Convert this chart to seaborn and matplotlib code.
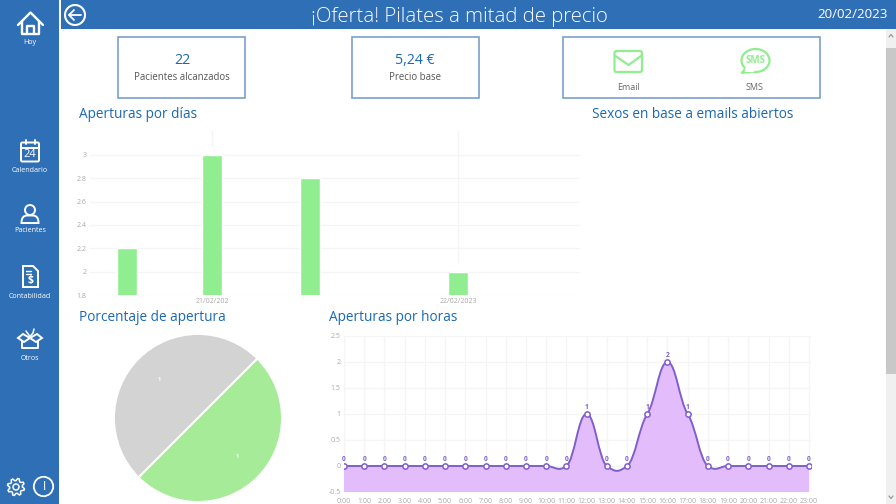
#!/usr/bin/env python3
import numpy as np
import pandas as pd
import matplotlib
matplotlib.use('Agg')
import matplotlib.pyplot as plt
from matplotlib.patches import Rectangle, Circle, FancyBboxPatch, PathPatch, Ellipse, Polygon
from matplotlib.path import Path
import seaborn as sns

# Data
day_positions = [20.655, 21.0, 21.4, 22.0]
day_values = [2.2, 3, 2.8, 2]
day_ticks = [21, 22]
day_tick_labels = ['21/02/202', '22/02/2023']
day_yticks = [1.8, 2, 2.2, 2.4, 2.6, 2.8, 3]

pie_values = [1, 1]
pie_labels = ['1', '1']

hours = list(range(24))
hour_labels = [f'{h}:00' for h in hours]
hour_values = [0, 0, 0, 0, 0, 0, 0, 0, 0, 0, 0, 0, 1, 0, 0, 1, 2, 1, 0, 0, 0, 0, 0, 0]
hour_yticks = [-0.5, 0, 0.5, 1, 1.5, 2, 2.5]

nav_items = ['Calendario', 'Pacientes', 'Contabilidad', 'Otros']

BLUE = '#2f6fb6'
TITLE_BLUE = '#1a68b4'
GREEN = '#90ee90'
PURPLE = '#7f5fcb'
GRID = '#f5f5f5'
W, H = 896, 504
FONT = 'Open Sans'

sns.set_style('white')
plt.rcParams['font.family'] = [FONT, 'DejaVu Sans']

fig = plt.figure(figsize=(W / 100, H / 100), dpi=100)


def px_axes(left, top, right, bottom):
    return fig.add_axes([left / W, 1 - bottom / H, (right - left) / W, (bottom - top) / H])


# Canvas in pixels for the app chrome
ui = fig.add_axes([0, 0, 1, 1], zorder=0)
ui.set_xlim(0, W)
ui.set_ylim(H, 0)
ui.axis('off')

ui.add_patch(Rectangle((0, 0), 59, H, color=BLUE, lw=0))
ui.add_patch(Rectangle((61, 0), W - 61, 28.5, color=BLUE, lw=0))

# Scrollbar
ui.add_patch(Rectangle((886, 29), 10, H - 29, color='#f0f0f0', lw=0))
ui.add_patch(Rectangle((886, 48), 10, 326, color='#c8c8c8', lw=0))
ui.plot([889, 891, 893], [37, 34.5, 37], color='#999999', lw=0.9)
ui.plot([889, 891, 893], [496, 498.5, 496], color='#999999', lw=0.9)

ui.text(459.5, 17, '¡Oferta! Pilates a mitad de precio', color='white', fontsize=14.7,
        fontweight='light', ha='center', va='center')
ui.text(853, 15, '20/02/2023', color='white', fontsize=9.6, ha='center', va='center')

# Back button
ui.add_patch(Circle((75, 15), 10, fill=False, ec='white', lw=1.5))
ui.plot([69, 81], [15, 15], color='white', lw=1.3)
ui.plot([74, 69, 74], [10, 15, 20], color='white', lw=1.3)

# Top cards
for left, right in [(118, 245), (352, 479), (563, 820)]:
    ui.add_patch(Rectangle((left, 37), right - left, 61, fc='white', ec='#7a9fcb', lw=1.2))

ui.text(182, 61, '22', color=TITLE_BLUE, fontsize=10.2, ha='center', va='center')
ui.text(182, 78, 'Pacientes alcanzados', color='#555555', fontsize=6.9, ha='center', va='center')
ui.text(415, 61, '5,24 €', color=TITLE_BLUE, fontsize=10.2, ha='center', va='center')
ui.text(415, 78, 'Precio base', color='#555555', fontsize=6.9, ha='center', va='center')
ui.text(628, 88, 'Email', color='#666666', fontsize=6.5, ha='center', va='center')
ui.text(755, 88, 'SMS', color='#666666', fontsize=6.5, ha='center', va='center')

# Email icon
ui.add_patch(FancyBboxPatch((614.5, 51), 27.5, 21, boxstyle='round,pad=0,rounding_size=2',
                            fc='white', ec=GREEN, lw=1.6))
ui.plot([615.5, 628.5, 641], [56, 65, 56], color=GREEN, lw=1.6)

# SMS icon
ui.add_patch(Polygon([[746, 68], [741.5, 73], [751, 72]], fc='white', ec=GREEN, lw=1.5))
ui.add_patch(Ellipse((755.5, 60.5), 28, 23, fc='white', ec=GREEN, lw=1.6))
ui.add_patch(Rectangle((745, 68), 9, 3.5, fc='white', ec='none'))
ui.text(755.5, 60.5, 'SMS', color=GREEN, fontsize=7, fontweight='bold', ha='center', va='center')

# Section titles
for x, y, label in [(79, 114.5, 'Aperturas por días'), (592, 114.5, 'Sexos en base a emails abiertos'),
                    (79, 317.5, 'Porcentaje de apertura'), (329, 317.5, 'Aperturas por horas')]:
    ui.text(x, y, label, color=TITLE_BLUE, fontsize=9.8, ha='left', va='center')

# Sidebar icons
LW = 1.4
# home
ui.plot([18, 30.5, 43], [25, 12.5, 25], color='white', lw=LW + 0.3)
ui.plot([22, 22, 39, 39], [21, 33.5, 33.5, 21], color='white', lw=LW + 0.3)
ui.plot([27, 27, 34, 34], [33.5, 26, 26, 33.5], color='white', lw=LW + 0.3)
ui.text(30, 43, 'Hoy', color='white', fontsize=5.1, ha='center', va='center')
# calendar
ui.add_patch(FancyBboxPatch((21, 142.5), 18, 19, boxstyle='round,pad=0,rounding_size=1.5',
                            fill=False, ec='white', lw=LW))
ui.plot([21, 39], [147.5, 147.5], color='white', lw=LW)
ui.plot([25.5, 25.5], [140, 144], color='white', lw=LW)
ui.plot([34.5, 34.5], [140, 144], color='white', lw=LW)
ui.text(30, 154.5, '24', color='white', fontsize=8, ha='center', va='center')
ui.text(30, 170, nav_items[0], color='white', fontsize=5.1, ha='center', va='center')
# person
ui.add_patch(Circle((30, 210), 5, fill=False, ec='white', lw=LW))
ui.add_patch(PathPatch(Path([(21.5, 223), (21.5, 214.5), (27, 215.5), (30, 215.5), (33, 215.5), (38.5, 214.5),
                             (38.5, 223), (21.5, 223)],
                            [Path.MOVETO, Path.CURVE4, Path.CURVE4, Path.CURVE4, Path.CURVE4, Path.CURVE4, Path.CURVE4,
                             Path.CLOSEPOLY]), fill=False, ec='white', lw=LW))
ui.text(30, 231, nav_items[1], color='white', fontsize=5.1, ha='center', va='center')
# document
ui.add_patch(Polygon([[23, 266], [33, 266], [38, 271], [38, 287], [23, 287]], closed=True, fill=False,
                     ec='white', lw=LW))
ui.plot([26, 31], [270.5, 270.5], color='white', lw=1)
ui.plot([26, 31], [273.5, 273.5], color='white', lw=1)
ui.text(30.5, 280, '$', color='white', fontsize=7.5, fontweight='bold', ha='center', va='center')
ui.text(30, 296, nav_items[2], color='white', fontsize=5.1, ha='center', va='center')
# box
ui.add_patch(Polygon([[18, 338], [23, 334], [30, 338], [37, 334], [42, 338], [36, 342], [30, 338], [24, 342]],
                     closed=True, fill=False, ec='white', lw=LW))
ui.plot([22, 22, 38, 38], [341, 348, 348, 341], color='white', lw=LW)
ui.plot([26, 30, 33, 34], [331, 336.5, 333, 329], color='white', lw=1.1)
ui.text(30, 358, nav_items[3], color='white', fontsize=5.1, ha='center', va='center')
# settings and info
gear_angles = np.linspace(0, 2 * np.pi, 33)[:-1] + np.pi / 16
gear_radii = np.tile([8.6, 8.6, 6.4, 6.4], 8)
ui.add_patch(Polygon(np.column_stack([16 + gear_radii * np.cos(gear_angles), 487 + gear_radii * np.sin(gear_angles)]),
                     closed=True, fill=False, ec='white', lw=1.1))
ui.add_patch(Circle((16, 487), 3, fill=False, ec='white', lw=1.1))
ui.add_patch(Circle((43.5, 486.5), 9.7, fill=False, ec='white', lw=1.3))
ui.text(43.5, 486.5, '!', color='white', fontsize=9, ha='center', va='center')


def light_axis(ax):
    sns.despine(ax=ax, left=True, bottom=True)
    ax.set_facecolor('none')
    ax.set_xlabel('')
    ax.set_ylabel('')
    ax.tick_params(length=0, labelsize=5, labelcolor='#a8a8a8', pad=2.5)


# Bars per day
days = pd.DataFrame({'day': day_positions, 'opens': day_values})
ax1 = px_axes(90, 131, 580, 295)
sns.barplot(data=days, x='day', y='opens', native_scale=True, color=GREEN, saturation=1, width=0.235, ax=ax1)
ax1.set_xlim(20.504, 22.496)
ax1.set_ylim(1.8, 1.8 + (295 - 131) / 116.67)
ax1.set_yticks(day_yticks)
ax1.set_yticklabels(['1.8', '2', '2.2', '2.4', '2.6', '2.8', '3'])
ax1.set_xticks(day_ticks)
ax1.set_xticklabels(day_tick_labels)
light_axis(ax1)
ax1.grid(True, axis='y', color=GRID, lw=1)
ax1.set_axisbelow(True)
ax1.axvline(22, ymin=0.2, ymax=1, color=GRID, lw=1, zorder=0)
ax1.axvline(21, ymin=0.91, ymax=1, color=GRID, lw=1, zorder=0)

# Opening percentage pie
ax2 = px_axes(198 - 86, 418 - 86, 198 + 86, 418 + 86)
wedges, _ = ax2.pie(pie_values, colors=['#d3d3d3', '#a6ec98'], startangle=45, radius=84 / 86,
                    wedgeprops={'ec': 'white', 'lw': 1.4})
for wedge, label in zip(wedges, pie_labels):
    mid = np.deg2rad((wedge.theta1 + wedge.theta2) / 2)
    ax2.text(0.64 * np.cos(mid), 0.64 * np.sin(mid), label, color='white', fontsize=4, fontweight='bold',
             ha='center', va='center')
ax2.set_xlim(-1, 1)
ax2.set_ylim(-1, 1)

# Opens per hour
ax3 = px_axes(344, 336, 811, 492)
sns.lineplot(x=hours, y=hour_values, ax=ax3, linestyle='none', marker='o', markersize=3.8, markerfacecolor='white',
             markeredgecolor=PURPLE, markeredgewidth=1.1, zorder=5)
ax3.set_xlim(0, 23.1)
ax3.set_ylim(-0.5, 2.5)

# Smoothed line as bezier segments through the hourly values
pts = np.column_stack([hours, hour_values]).astype(float)
tang = np.gradient(pts, axis=0) * [0.42, 0.25]
verts = [tuple(pts[0])]
codes = [Path.MOVETO]
for i in range(len(pts) - 1):
    verts += [tuple(pts[i] + tang[i]), tuple(pts[i + 1] - tang[i + 1]), tuple(pts[i + 1])]
    codes += [Path.CURVE4] * 3
ax3.add_patch(PathPatch(Path(verts, codes), fill=False, ec=PURPLE, lw=1.4, zorder=4))
area_verts = verts + [(23, -0.5), (0, -0.5), (0, 0)]
area_codes = codes + [Path.LINETO, Path.LINETO, Path.LINETO]
ax3.add_patch(PathPatch(Path(area_verts, area_codes), fc='#e3bdfb', ec='none', zorder=2))

ax3.set_xticks(hours)
ax3.set_xticklabels(hour_labels)
ax3.set_yticks(hour_yticks)
ax3.set_yticklabels(['-0.5', '0', '0.5', '1', '1.5', '2', '2.5'])
light_axis(ax3)
ax3.tick_params(axis='x', pad=4)
ax3.grid(True, color=GRID, lw=1)
ax3.set_axisbelow(True)
for h, v in zip(hours, hour_values):
    ax3.annotate(str(v), (h, v), xytext=(0, 5), textcoords='offset points', ha='center', va='center',
                 fontsize=4.8, color=PURPLE, fontweight='bold', zorder=6)

fig.savefig('out.png', dpi=100)
plt.close(fig)
